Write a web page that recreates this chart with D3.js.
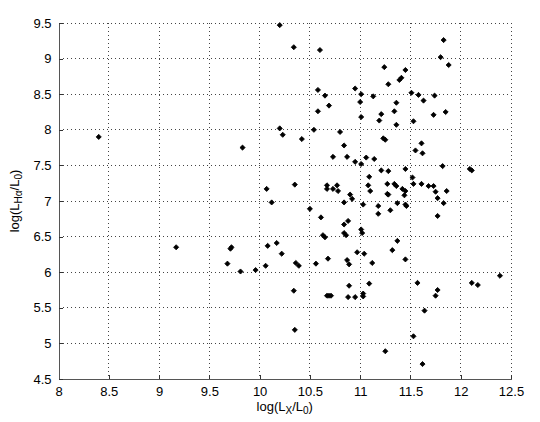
<!DOCTYPE html>
<html>
<head>
<meta charset="utf-8">
<script src="https://cdn.jsdelivr.net/npm/d3@7"></script>
<style>
    body { margin: 0; background: #fff; }
    svg { display: block; font-family: "Liberation Sans", Arial, sans-serif; }
</style>
</head>
<body>
<svg id="chart" width="540" height="422"></svg>
<script>
// Data
var logLx = [
    8.40, 9.17, 10.20, 10.34, 10.20, 10.23, 9.83, 10.07, 10.35, 10.12,
    9.71, 9.72, 9.68, 9.81, 9.96, 10.08, 10.17, 10.22, 10.06, 10.36,
    10.39, 10.34, 10.35, 10.60, 10.58, 10.65, 10.58, 10.69, 10.95, 11.01,
    11.00, 11.13, 11.01, 11.19, 10.54, 10.42, 10.80, 10.84, 10.73, 10.87,
    10.95, 11.01, 11.06, 11.14, 10.67, 10.67, 10.73, 10.77, 10.78, 10.90,
    10.92, 11.09, 11.08, 11.10, 10.84, 10.50, 10.61, 11.03, 11.18, 11.18,
    10.84, 10.88, 10.63, 10.65, 10.84, 10.86, 11.01, 11.02, 10.97, 11.04,
    11.12, 10.68, 10.56, 10.87, 10.89, 10.89, 11.09, 10.67, 10.69, 10.71,
    10.88, 10.95, 11.03, 11.03, 11.83, 11.80, 11.88, 11.24, 11.45, 11.39,
    11.41, 11.28, 11.51, 11.58, 11.63, 11.74, 11.36, 11.34, 11.21, 11.36,
    11.53, 11.73, 11.85, 11.23, 11.25, 11.61, 11.55, 11.62, 11.21, 11.28,
    11.45, 11.82, 12.09, 12.11, 11.52, 11.27, 11.34, 11.36, 11.42, 11.45,
    11.53, 11.61, 11.68, 11.73, 11.86, 11.75, 11.27, 11.28, 11.44, 11.77,
    11.83, 11.37, 11.30, 11.45, 11.46, 11.77, 11.37, 11.32, 11.45, 11.57,
    11.77, 11.75, 12.11, 12.17, 12.39, 11.53, 11.25, 11.62, 11.64
];
var logLHa = [
    7.90, 6.35, 9.47, 9.16, 8.02, 7.93, 7.75, 7.17, 7.23, 6.98,
    6.33, 6.35, 6.12, 6.01, 6.03, 6.37, 6.41, 6.26, 6.09, 6.13,
    6.09, 5.74, 5.19, 9.12, 8.56, 8.48, 8.26, 8.34, 8.58, 8.50,
    8.39, 8.47, 8.18, 8.13, 8.00, 7.87, 7.97, 7.78, 7.62, 7.62,
    7.55, 7.52, 7.61, 7.59, 7.22, 7.17, 7.17, 7.22, 7.14, 7.09,
    7.03, 7.34, 7.22, 7.14, 6.98, 6.89, 6.77, 6.95, 6.93, 6.82,
    6.67, 6.72, 6.52, 6.49, 6.55, 6.52, 6.60, 6.55, 6.28, 6.26,
    6.13, 6.19, 6.12, 6.17, 6.11, 5.81, 5.84, 5.67, 5.67, 5.67,
    5.65, 5.65, 5.70, 5.66, 9.26, 9.02, 8.91, 8.88, 8.84, 8.70,
    8.73, 8.64, 8.52, 8.49, 8.41, 8.48, 8.38, 8.26, 8.22, 8.07,
    8.12, 8.21, 8.25, 7.88, 7.86, 7.81, 7.71, 7.67, 7.43, 7.42,
    7.45, 7.49, 7.45, 7.43, 7.33, 7.24, 7.24, 7.21, 7.17, 7.14,
    7.24, 7.24, 7.21, 7.21, 7.14, 7.13, 7.10, 7.09, 7.08, 7.04,
    6.97, 6.97, 6.87, 6.95, 6.93, 6.79, 6.44, 6.31, 6.18, 5.85,
    5.75, 5.67, 5.85, 5.82, 5.95, 5.10, 4.89, 4.71, 5.46
];
var xTicks = [8, 8.5, 9, 9.5, 10, 10.5, 11, 11.5, 12, 12.5];
var yTicks = [4.5, 5, 5.5, 6, 6.5, 7, 7.5, 8, 8.5, 9, 9.5];

var svg = d3.select("#chart");
var plotLeft = 58.5, plotRight = 511, plotTop = 23, plotBottom = 379;

var x = d3.scaleLinear().domain([8, 12.5]).range([plotLeft, plotRight]);
var y = d3.scaleLinear().domain([4.5, 9.5]).range([plotBottom, plotTop]);

// dotted grid, drawn at every tick including the top and right edges
svg.append("g")
    .selectAll("line")
    .data(xTicks.slice(1))
    .enter()
    .append("line")
    .attr("x1", d => x(d)).attr("x2", d => x(d))
    .attr("y1", plotTop).attr("y2", plotBottom)
    .attr("stroke", "#444")
    .attr("stroke-dasharray", "1,3")
    .attr("shape-rendering", "crispEdges");

svg.append("g")
    .selectAll("line")
    .data(yTicks.slice(1))
    .enter()
    .append("line")
    .attr("x1", plotLeft).attr("x2", plotRight)
    .attr("y1", d => y(d)).attr("y2", d => y(d))
    .attr("stroke", "#444")
    .attr("stroke-dasharray", "1,3")
    .attr("shape-rendering", "crispEdges");

// axes (ticks point inwards, like matlab)
var xAxis = svg.append("g")
    .attr("transform", "translate(0," + plotBottom + ")")
    .call(d3.axisBottom(x).tickValues(xTicks).tickSizeInner(-4).tickSizeOuter(0)
        .tickPadding(8).tickFormat(d3.format("")));
var yAxis = svg.append("g")
    .attr("transform", "translate(" + plotLeft + ",0)")
    .call(d3.axisLeft(y).tickValues(yTicks).tickSizeInner(-4).tickSizeOuter(0)
        .tickPadding(7).tickFormat(d3.format("")));

[xAxis, yAxis].forEach(function (a) {
    a.select(".domain").attr("stroke", "#555").attr("shape-rendering", "crispEdges");
    a.selectAll(".tick line").attr("stroke", "#333").attr("shape-rendering", "crispEdges");
    a.selectAll("text").attr("fill", "#000").attr("font-size", "13px")
        .attr("font-family", "Liberation Sans, Arial, sans-serif");
});

// markers
var diamond = d3.symbol().type(d3.symbolSquare).size(13);
svg.append("g")
    .selectAll("path")
    .data(logLx.map((v, i) => [v, logLHa[i]]))
    .enter()
    .append("path")
    .attr("d", diamond)
    .attr("transform", d => "translate(" + x(d[0]) + "," + y(d[1]) + ") rotate(45)")
    .attr("fill", "#000")
    .attr("stroke", "#000")
    .attr("stroke-width", 0.8);

// axis labels
var xl = svg.append("text")
    .attr("x", (plotLeft + plotRight) / 2)
    .attr("y", 411)
    .attr("text-anchor", "middle")
    .attr("font-size", "13px");
xl.append("tspan").text("log(L");
xl.append("tspan").attr("baseline-shift", "-30%").attr("font-size", "10px").text("X");
xl.append("tspan").text("/L");
xl.append("tspan").attr("baseline-shift", "-30%").attr("font-size", "10px").text("0");
xl.append("tspan").text(")");

var yl = svg.append("text")
    .attr("transform", "translate(19," + ((plotTop + plotBottom) / 2) + ") rotate(-90)")
    .attr("text-anchor", "middle")
    .attr("font-size", "13px");
yl.append("tspan").text("log(L");
yl.append("tspan").attr("baseline-shift", "-30%").attr("font-size", "10px").text("Hα");
yl.append("tspan").text("/L");
yl.append("tspan").attr("baseline-shift", "-30%").attr("font-size", "10px").text("0");
yl.append("tspan").text(")");
</script>
</body>
</html>
